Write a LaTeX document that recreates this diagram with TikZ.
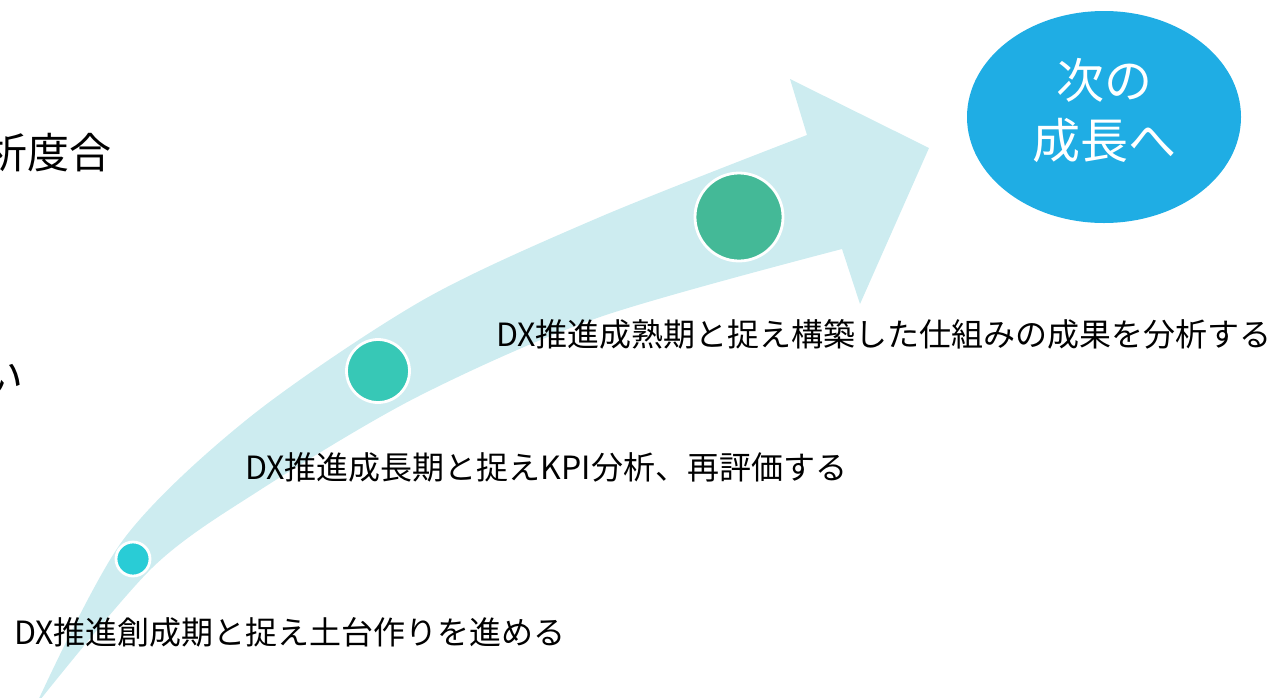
\documentclass[tikz,border=0pt]{standalone}
\usepackage{fontspec}
\setmainfont{Noto Sans CJK JP}
\usetikzlibrary{shapes.geometric}
\definecolor{bandcol}{HTML}{CDECF0}
\definecolor{dotA}{HTML}{29CCD6}
\definecolor{dotB}{HTML}{37C8B6}
\definecolor{dotC}{HTML}{44B997}
\definecolor{goalcol}{HTML}{1FADE4}

\begin{document}
\begin{tikzpicture}[x=1pt,y=-1pt,
    dot/.style={circle,draw=white,line width=2.8pt,inner sep=0pt},
    goal/.style={ellipse,fill=goalcol,inner sep=0pt,minimum width=274pt,minimum height=212pt},
    stage/.style={anchor=west,inner sep=0pt,font=\fontsize{32}{38}\selectfont},
    side/.style={anchor=east,inner sep=0pt,font=\fontsize{42}{48}\selectfont}]
    \useasboundingbox (0,0) rectangle (1271,697);
    \clip (0,0) rectangle (1271,697);
    % growth arrow
    \fill[bandcol] plot[smooth] coordinates {(36,705) (123,540) (250,417) (423,300) (600,217) (807,135)}
      -- (790,79) -- (929,148) -- (860,304) -- (842,249)
      -- plot[smooth] coordinates {(842,249) (600,317) (417,397) (260,490) (153,567) (36,705)} -- cycle;
    \node[dot,fill=dotA,minimum size=34pt] (start) at (133,559) {};
    \node[dot,fill=dotB,minimum size=63pt] (grow) at (378,371) {};
    \node[dot,fill=dotC,minimum size=88pt] (mature) at (739,217) {};
    \node[goal] (next) at (1104,117) {};
    \node[white,align=center,font=\fontsize{48}{60}\selectfont] (nexttxt) at ([yshift=7pt]next.center) {次の\\成長へ};
    % stage labels
    \node[stage] (startlbl) at (14,632) {DX推進創成期と捉え土台作りを進める};
    \node[stage] (growlbl) at (245,467) {DX推進成長期と捉えKPI分析、再評価する};
    \node[stage] (maturelbl) at (496,334) {DX推進成熟期と捉え構築した仕組みの成果を分析する};
    % cut-off text at the left edge
    \node[side] (leftA) at (112,153) {析度合};
    \node[side] (leftB) at (24,378) {い};
\end{tikzpicture}
\end{document}
